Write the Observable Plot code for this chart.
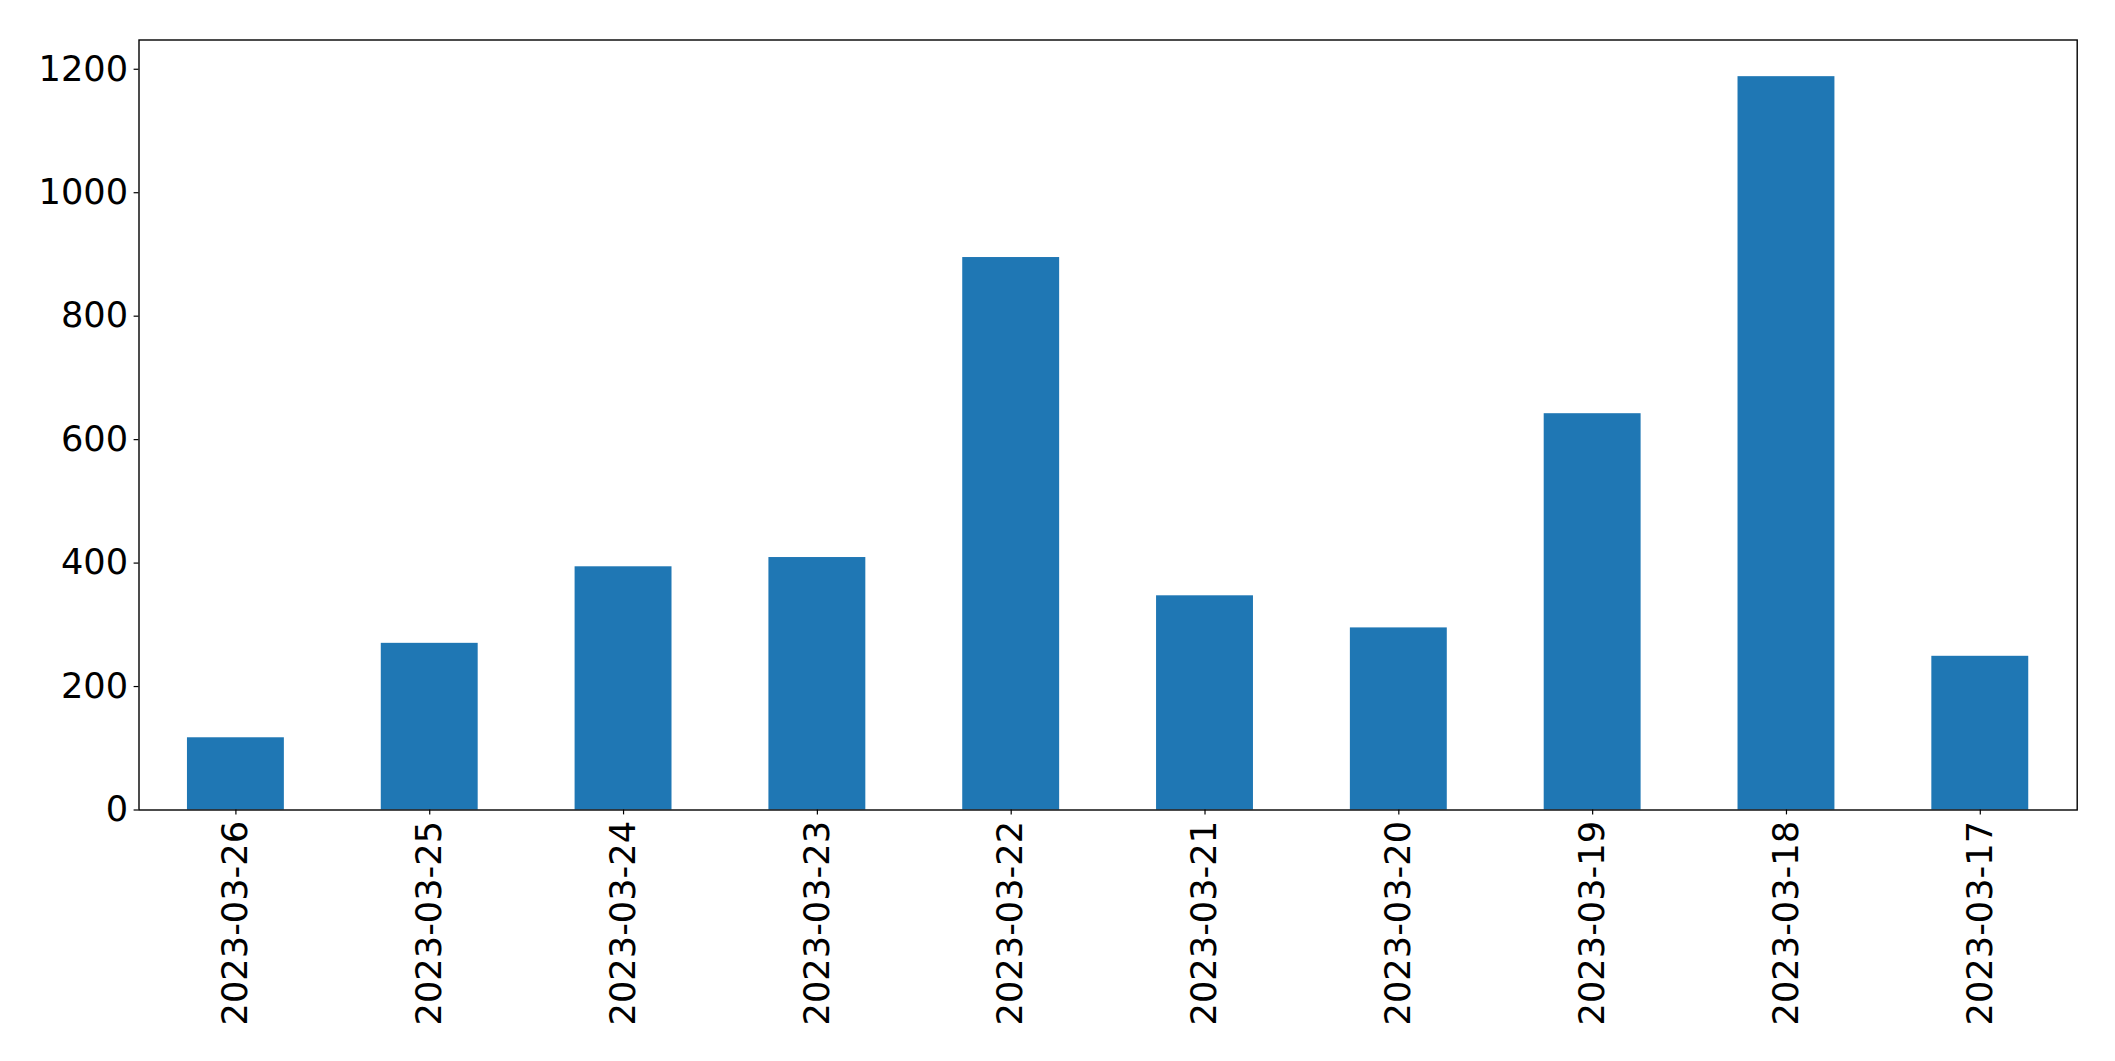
<!DOCTYPE html>
<html>
<head>
<meta charset="utf-8">
<script src="https://cdn.jsdelivr.net/npm/d3@7"></script>
<script src="https://cdn.jsdelivr.net/npm/@observablehq/plot@0.6"></script>
<style>
  html, body { margin: 0; padding: 0; background: #fff; }
  #chart svg { display: block; }
</style>
</head>
<body>
<div id="chart"></div>
<script>
const dates = ["2023-03-26", "2023-03-25", "2023-03-24", "2023-03-23", "2023-03-22",
               "2023-03-21", "2023-03-20", "2023-03-19", "2023-03-18", "2023-03-17"];
const counts = [117, 270, 394, 409, 895, 347, 295, 642, 1188, 249];
const yTicks = [0, 200, 400, 600, 800, 1000, 1200];

const data = dates.map((d, i) => ({date: d, count: counts[i]}));
const yMax = d3.max(counts) * 1.05;

const fontSize = 35.2;
const chart = Plot.plot({
  width: 2115,
  height: 1061,
  marginLeft: 138.5,
  marginRight: 38.3,
  marginTop: 39.5,
  marginBottom: 251.5,
  style: {fontFamily: "DejaVu Sans", fontSize: fontSize + "px", color: "#000", background: "#fff"},
  x: {type: "band", domain: dates, paddingInner: 0.5, paddingOuter: 0.25, round: false, label: null},
  y: {domain: [0, yMax], label: null},
  marks: [
    Plot.barY(data, {x: "date", y: "count", fill: "#1f77b4"}),
    Plot.axisY({ticks: yTicks, tickFormat: d => String(d), tickSize: 4.9, tickPadding: 6, fontSize: fontSize, label: null, stroke: "#000", strokeWidth: 1.2}),
    Plot.axisX({tickRotate: -90, tickSize: 4.9, tickPadding: 6, fontSize: fontSize, label: null, stroke: "#000", strokeWidth: 1.2}),
    Plot.frame({stroke: "#000", strokeWidth: 1.4})
  ]
});
document.getElementById("chart").appendChild(chart);
</script>
</body>
</html>
